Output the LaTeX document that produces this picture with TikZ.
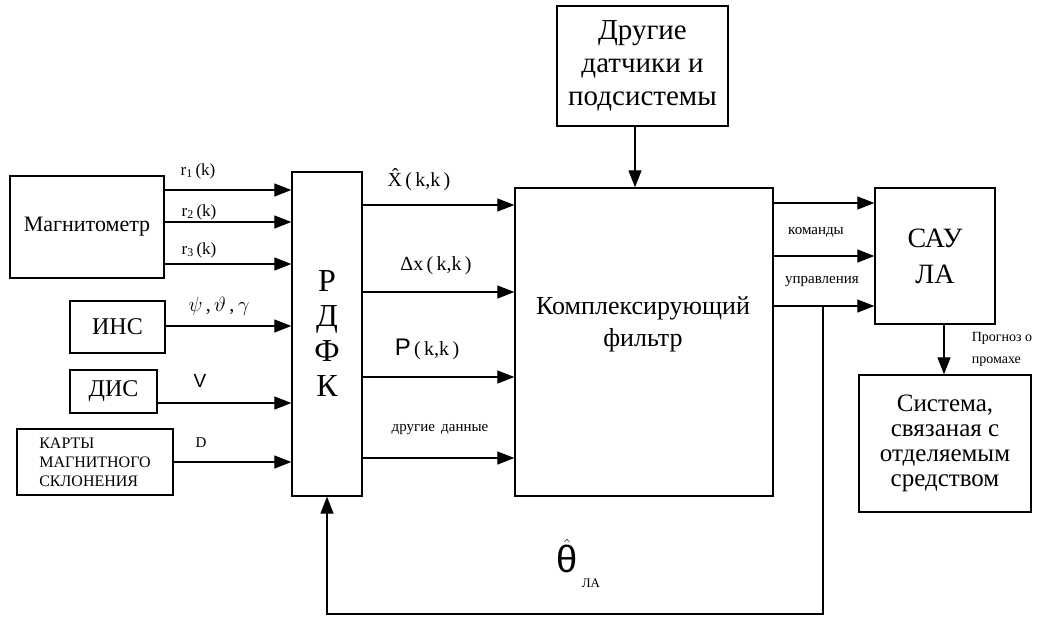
\documentclass[tikz,border=0pt]{standalone}
\usepackage{amsmath}
\usepackage{fontspec}
\setmainfont{Liberation Serif}
\newfontfamily\sansfont{Liberation Sans}
\usetikzlibrary{arrows.meta,positioning}
\tikzset{
    block/.style={rectangle, draw=black, line width=1.3pt, inner sep=0pt, align=center},
    arrow/.style={-{Triangle[length=17pt,width=13pt]}, line width=1.2pt},
    sig/.style={inner sep=0pt, font=\fontsize{17}{20}\selectfont},
    note/.style={inner sep=0pt, align=left, font=\fontsize{15}{18}\selectfont}
}

\begin{document}
\begin{tikzpicture}[x=1pt, y=-1pt]
\useasboundingbox (0,0) rectangle (1047,618);

% Sensors on the left
\node[block, minimum width=154pt, minimum height=102pt, font=\fontsize{22}{26}\selectfont] (magn) at (87,227) {Магнитометр};
\node[block, minimum width=95pt, minimum height=52pt, font=\fontsize{24}{28}\selectfont] (ins) at (117.5,327) {ИНС};
\node[block, minimum width=87pt, minimum height=43pt, font=\fontsize{24}{28}\selectfont] (dis) at (113.5,391.5) {ДИС};
\node[block, minimum width=156pt, minimum height=66pt, align=left, font=\fontsize{16}{19}\selectfont] (maps) at (95,462) {КАРТЫ\\МАГНИТНОГО\\СКЛОНЕНИЯ};

% Central blocks
\node[block, minimum width=70pt, minimum height=324pt, font=\fontsize{32}{35}\selectfont] (rdfk) at (327,334) {Р\\Д\\Ф\\К};
\node[block, minimum width=258pt, minimum height=308pt] (filt) at (644,342) {};
\node[align=center, font=\fontsize{26}{32}\selectfont] (filttext) at (643,324) {Комплексирующий\\фильтр};
\node[block, minimum width=171pt, minimum height=120pt, font=\fontsize{29}{33}\selectfont] (other) at (642.5,66) {Другие\\датчики и\\подсистемы};

% Blocks on the right
\node[block, minimum width=120pt, minimum height=136pt, font=\fontsize{28}{36}\selectfont] (sau) at (935,256) {САУ\\ЛА};
\node[block, minimum width=172pt, minimum height=137pt, font=\fontsize{25}{25}\selectfont] (sys) at (945,443.5) {Система,\\связаная с\\отделяемым\\средством};

% Inputs of the RDFK block
\foreach \y in {190,222,264}
    \draw[arrow] (magn.east |- 0,\y) -- (rdfk.west |- 0,\y);
\draw[arrow] (ins.east |- 0,326) -- (rdfk.west |- 0,326);
\draw[arrow] (dis.east |- 0,403) -- (rdfk.west |- 0,403);
\draw[arrow] (maps.east) -- (rdfk.west |- maps.east);

\node[sig] (r1) at (198,171) {r\textsubscript{1}\,(k)};
\node[sig] (r2) at (199,212) {r\textsubscript{2}\,(k)};
\node[sig] (r3) at (199,250) {r\textsubscript{3}\,(k)};
\node[sig, font=\fontsize{20}{24}\selectfont] (angles) at (219,306) {$\psi$\,,\,$\vartheta$\,,\,$\gamma$};
\node[sig, font=\sansfont\fontsize{19}{22}\selectfont] (vel) at (200,381) {V};
\node[sig, font=\fontsize{15}{18}\selectfont] (decl) at (201,443) {D};

% Outputs of the RDFK block
\foreach \y in {205,292,377,458}
    \draw[arrow] (rdfk.east |- 0,\y) -- (filt.west |- 0,\y);

\node[sig, font=\fontsize{20}{24}\selectfont] (xest) at (419,180) {\^{X}\,(\,k,k\,)};
\node[sig, font=\fontsize{20}{24}\selectfont] (dx) at (436,266) {Δx\,(\,k,k\,)};
\node[sig, font=\fontsize{20}{24}\selectfont] (pcov) at (427,349) {{\sansfont\fontsize{24}{28}\selectfont P}\,(\,k,k\,)};
\node[note] (otherdata) at (440,430) {другие\, данные};

% Other sensors into the filter
\draw[arrow] (other.south -| 635,0) -- (filt.north -| 635,0);

% Filter to the control system
\foreach \y in {203,256,306}
    \draw[arrow] (filt.east |- 0,\y) -- (sau.west |- 0,\y);
\node[note] (cmd) at (816,232) {команды};
\node[note] (ctl) at (822,282) {управления};

% Miss forecast
\draw[arrow] (sau.south -| 944,0) -- (sys.north -| 944,0);
\node[note, font=\fontsize{14}{22}\selectfont] (miss) at (1002,349) {Прогноз о\\промахе};

% Feedback of the attitude estimate
\coordinate (tap) at (823,306);
\draw[arrow] (tap) -- (823,614) -| (rdfk.south);
\node[inner sep=0pt, font=\sansfont\fontsize{38}{40}\selectfont] (theta) at (567,556) {$\hat{\text{θ}}$};
\node[inner sep=0pt, font=\fontsize{13}{15}\selectfont] (thetasub) at (591,583) {ЛА};

\end{tikzpicture}
\end{document}
